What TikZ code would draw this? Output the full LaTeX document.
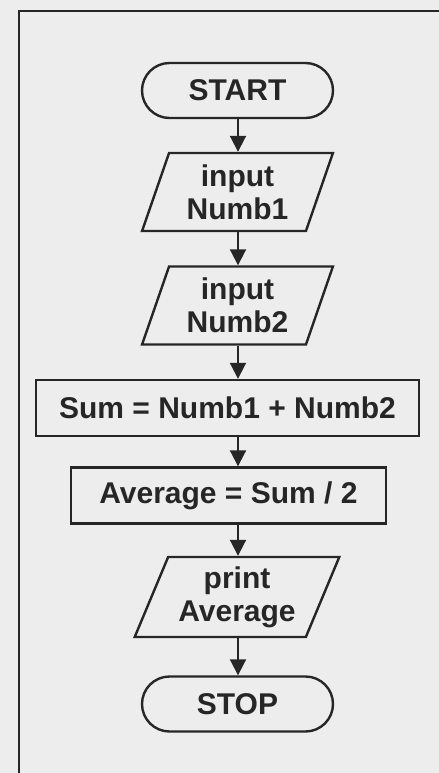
\documentclass[tikz,border=0pt]{standalone}
\usepackage{fontspec}
\setmainfont{Liberation Sans}
\usetikzlibrary{arrows.meta, shapes.geometric, shapes.misc}

\begin{document}
\begin{tikzpicture}[x=0.5pt, y=-0.5pt, >={Triangle[width=8pt,length=8pt]},
        line width=1.2pt, font=\bfseries\fontsize{15}{16.5}\selectfont,
        every node/.style={text=black!85, draw=black!85, inner sep=0pt},
        terminal/.style={rounded rectangle, minimum width=95.5pt, minimum height=27.5pt},
        inout/.style={trapezium, trapezium left angle=70, trapezium right angle=110,
            trapezium stretches=true, minimum width=95.5pt, minimum height=39pt, align=center},
        process/.style={rectangle, minimum height=28pt}]
        % --- page background and frame ---
        \fill[black!7] (0,0) rectangle (439,773);
        \useasboundingbox (0,0) rectangle (439,773);
        \draw[black!85, line width=1.2pt] (439,11) -- (19,11) -- (19,773);

        % --- flowchart ---
        \coordinate (axis) at (238,0);
        \node[terminal] (start) at (237.5,90.5) {START};
        \node[inout] (in1) at (237.5,192) {input\\Numb1};
        \node[inout] (in2) at (237.5,305.5) {input\\Numb2};
        \node[process, minimum width=191.5pt] (sum) at (227.5,408) {Sum = Numb1 + Numb2};
        \node[process, minimum width=157.5pt] (avg) at (228.5,495.5) {Average = Sum / 2};
        \node[inout, minimum width=103pt, minimum height=40pt, trapezium left angle=65,
            trapezium right angle=115] (out) at (237,597) {print\\Average};
        \node[terminal] (stop) at (237.5,704) {STOP};

        % --- connectors ---
        \foreach \a/\b in {start/in1, in1/in2, in2/sum, sum/avg, avg/out, out/stop} {
            \draw[->, black!85, line width=1pt] (\a.south -| axis) -- (\b.north -| axis);
        }
    \end{tikzpicture}
\end{document}
